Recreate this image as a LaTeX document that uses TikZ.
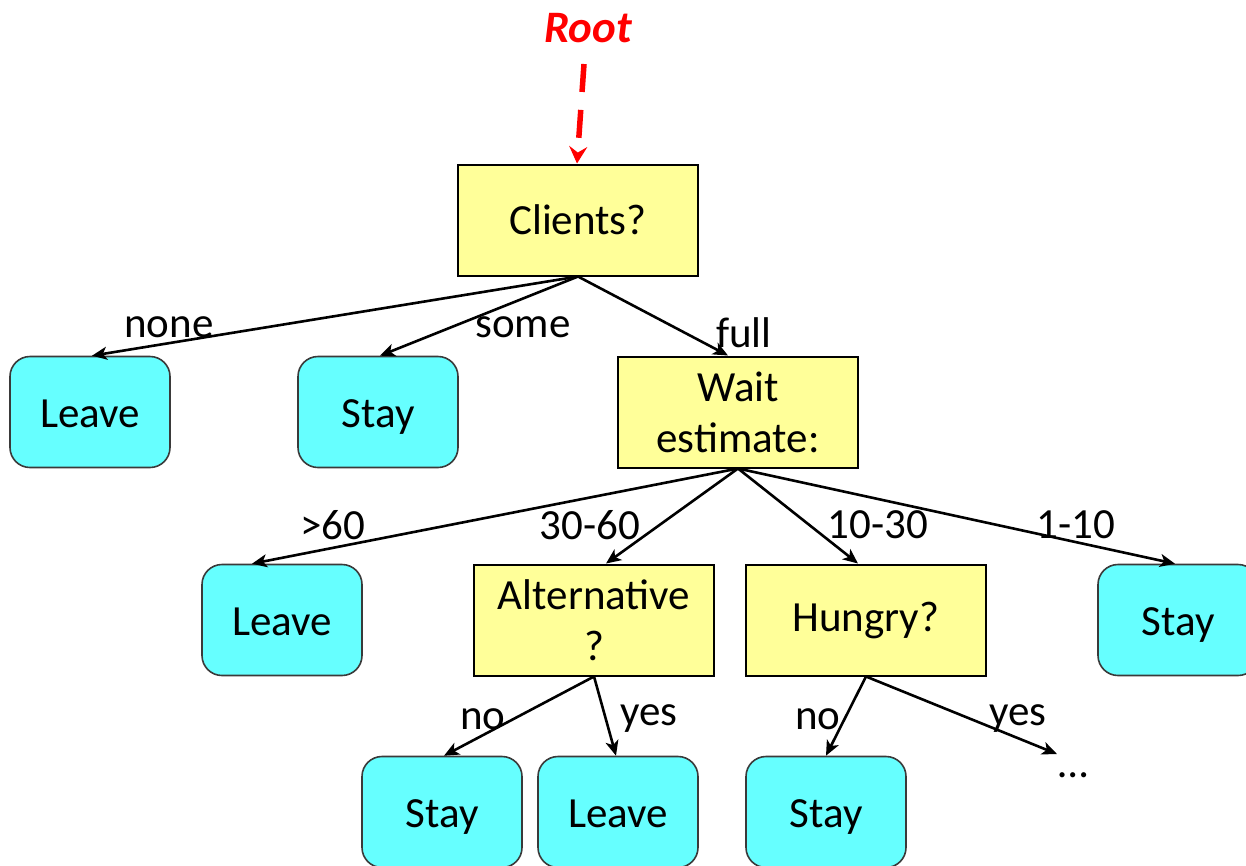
\documentclass[tikz,border=0pt]{standalone}
\usepackage{fontspec}
\setmainfont{Carlito}
\usetikzlibrary{arrows.meta,calc}
\definecolor{qyellow}{HTML}{FFFF99}
\definecolor{leafcyan}{HTML}{66FFFF}
\definecolor{leafborder}{HTML}{3A3A3A}
\tikzset{
  question/.style={draw=black, line width=2pt, fill=qyellow, minimum width=240pt, minimum height=111pt, align=center, inner sep=2pt, font=\fontsize{43}{51}\selectfont},
  leaf/.style={draw=leafborder, line width=1.6pt, fill=leafcyan, rounded corners=20pt, minimum width=160pt, minimum height=111pt, align=center, text height=30pt, text depth=0pt, font=\fontsize{43}{51}\selectfont},
  lbl/.style={font=\fontsize{43}{50}\selectfont, inner sep=0pt, yshift=-5pt},
  branch/.style={line width=2.6pt, -{Stealth[length=15pt,width=13pt,inset=4pt]}},
  rootarrow/.style={red, line width=5.5pt, dash pattern=on 28pt off 18pt, -{Stealth[length=17pt,width=18pt,inset=6pt]}}
}
\begin{document}
\begin{tikzpicture}[x=1pt,y=-1pt]
\useasboundingbox (0,0) rectangle (1246,865);
\clip (0,0) rectangle (1246,865);
% root
\node[text=red, font=\fontsize{45}{52}\selectfont\bfseries\itshape, inner sep=0pt] (root) at (588,28) {Root};
\coordinate (rootstart) at (584,64);
% nodes
\node[question] (clients) at (578,220) {Clients?};
\node[leaf] (leave1) at (90,412) {Leave};
\node[leaf] (stay1) at (378,412) {Stay};
\node[question] (wait) at (738,412) {Wait\\estimate:};
\node[leaf] (leave2) at (282,620) {Leave};
\node[question] (alt) at (594,620) {Alternative\\?};
\node[question] (hungry) at (866,620) {Hungry?};
\node[leaf] (stay2) at (1178,620) {Stay};
\node[leaf] (stay3) at (442,812) {Stay};
\node[leaf] (leave3) at (618,812) {Leave};
\node[leaf] (stay4) at (826,812) {Stay};
\node[lbl] (dots) at (1073,770) {\dots};
\coordinate (dotsend) at (1057,754);
% root arrow
\draw[rootarrow] (rootstart) -- ([xshift=-1pt]clients.north);
% edges
\draw[branch] (clients.south) -- ([xshift=2pt]leave1.north);
\draw[branch] (clients.south) -- ([xshift=2pt]stay1.north);
\draw[branch] (clients.south) -- ([xshift=-10pt]wait.north);
\draw[branch] (wait.south) -- ([xshift=-30pt]leave2.north);
\draw[branch] (wait.south) -- ([xshift=12pt]alt.north);
\draw[branch] (wait.south) -- ([xshift=-8pt]hungry.north);
\draw[branch] (wait.south) -- ([xshift=-3pt]stay2.north);
\draw[branch] (alt.south) -- ([xshift=2pt]stay3.north);
\draw[branch] (alt.south) -- ([xshift=-2pt]leave3.north);
\draw[branch] (hungry.south) -- (stay4.north);
\draw[branch] (hungry.south) -- (dotsend);
% labels
\node[lbl] (lnone) at (169,322) {none};
\node[lbl] (lsome) at (523,322) {some};
\node[lbl] (lfull) at (744,328) {full};
\node[lbl] (l60) at (333,520) {>60};
\node[lbl] (l3060) at (590,520) {30-60};
\node[lbl] (l1030) at (878,520) {10-30};
\node[lbl] (l110) at (1076,520) {1-10};
\node[lbl] (lno1) at (483,714) {no};
\node[lbl] (lyes1) at (649,714) {yes};
\node[lbl] (lno2) at (818,714) {no};
\node[lbl] (lyes2) at (1018,714) {yes};
\end{tikzpicture}
\end{document}
